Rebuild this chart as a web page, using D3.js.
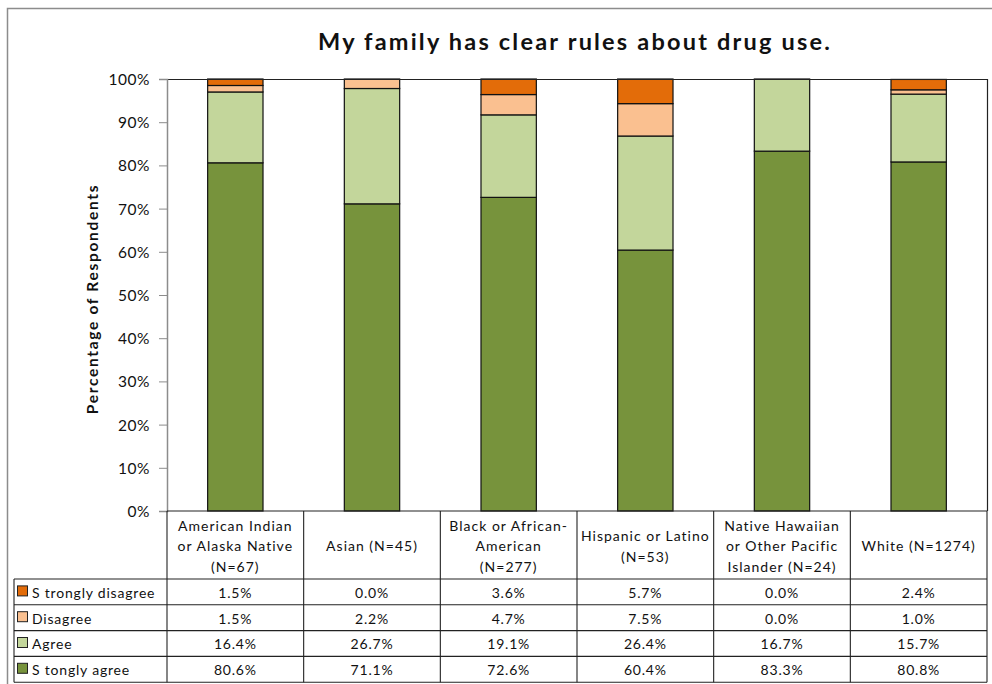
<!DOCTYPE html>
<html>
<head>
<meta charset="utf-8">
<script src="https://cdn.jsdelivr.net/npm/d3@7"></script>
<style>
  html, body { margin: 0; padding: 0; background: #fff; }
  svg { display: block; font-family: Lato, "Open Sans", "Liberation Sans", sans-serif; }
</style>
</head>
<body>
<svg id="chart" width="992" height="684"></svg>
<script>
// Survey groups (header lines of the data table)
const categories = [
  ["American Indian", "or Alaska Native", "(N=67)"],
  ["Asian (N=45)"],
  ["Black or African-", "American", "(N=277)"],
  ["Hispanic or Latino", "(N=53)"],
  ["Native Hawaiian", "or Other Pacific", "Islander (N=24)"],
  ["White (N=1274)"]
];

// Response series, stacked bottom to top: Stongly agree, Agree, Disagree, Strongly disagree
const seriesNames = ["Stongly agree", "Agree", "Disagree", "Strongly disagree"];
const stronglyAgree    = [80.6, 71.1, 72.6, 60.4, 83.3, 80.8];
const agree            = [16.4, 26.7, 19.1, 26.4, 16.7, 15.7];
const disagree         = [1.5, 2.2, 4.7, 7.5, 0.0, 1.0];
const stronglyDisagree = [1.5, 0.0, 3.6, 5.7, 0.0, 2.4];
const seriesColors = ["#77933C", "#C3D69B", "#FAC090", "#E36C09"];

// Table rows, top to bottom
const tableRows = [
  { name: "S trongly disagree", values: stronglyDisagree, color: "#E36C09" },
  { name: "Disagree", values: disagree, color: "#FAC090" },
  { name: "Agree", values: agree, color: "#C3D69B" },
  { name: "S tongly agree", values: stronglyAgree, color: "#77933C" }
];

const yTicks = [0, 10, 20, 30, 40, 50, 60, 70, 80, 90, 100];

const svg = d3.select("#chart");

// Outer frame
svg.append("rect")
  .attr("x", 7.5).attr("y", 8.5).attr("width", 990).attr("height", 680)
  .attr("fill", "none").attr("stroke", "#8c8c8c").attr("stroke-width", 1.5);

const plotLeft = 167, plotRight = 987, plotTop = 79, plotBottom = 511;
const tableLeft = 14;
const headerBottom = 579;
const rowH = 25.8;

const x = d3.scaleBand().domain(d3.range(categories.length))
  .range([plotLeft, plotRight]).paddingInner(0).paddingOuter(0);
const y = d3.scaleLinear().domain([0, 100]).range([plotBottom, plotTop]);
const barW = x.bandwidth() * 0.405;

// Title
svg.append("text")
  .attr("x", 575).attr("y", 50)
  .attr("text-anchor", "middle")
  .attr("font-size", 23.5).attr("font-weight", "bold")
  .attr("letter-spacing", "2.2px")
  .attr("fill", "#111")
  .text("My family has clear rules about drug use.");

// Stacked bars
const table = categories.map((c, i) => ({
  i,
  "Stongly agree": stronglyAgree[i],
  "Agree": agree[i],
  "Disagree": disagree[i],
  "Strongly disagree": stronglyDisagree[i]
}));
const stacked = d3.stack().keys(seriesNames)(table);

svg.append("g").selectAll("g")
  .data(stacked)
  .join("g")
  .attr("fill", (d, k) => seriesColors[k])
  .selectAll("rect")
  .data(d => d.filter(p => p[1] - p[0] > 0))
  .join("rect")
  .attr("x", d => x(d.data.i) + (x.bandwidth() - barW) / 2)
  .attr("y", d => y(Math.min(100, d[1])))
  .attr("width", barW)
  .attr("height", d => y(d[0]) - y(Math.min(100, d[1])))
  .attr("stroke", "#111")
  .attr("stroke-width", 1.2);

// Plot area frame (top and right edges)
svg.append("path")
  .attr("d", `M${plotLeft},${plotTop + 0.5}H${plotRight + 0.5}V${plotBottom}`)
  .attr("fill", "none").attr("stroke", "#222").attr("stroke-width", 1.2);

// Y axis
const yAxis = d3.axisLeft(y).tickValues(yTicks).tickSize(8).tickPadding(9)
  .tickFormat(d => d + "%");
const yg = svg.append("g").attr("transform", `translate(${plotLeft},0)`).call(yAxis);
yg.select(".domain").attr("stroke", "#8c8c8c").attr("stroke-width", 1.5);
yg.selectAll(".tick line").attr("stroke", "#8c8c8c");
yg.selectAll(".tick text")
  .attr("font-size", 15.5).attr("fill", "#111")
  .attr("font-family", "Lato, 'Open Sans', sans-serif")
  .attr("letter-spacing", "0.5px")
  .attr("dy", "0.36em");

// Y axis title
svg.append("text")
  .attr("transform", `translate(98,${(plotTop + plotBottom) / 2 + 4}) rotate(-90)`)
  .attr("text-anchor", "middle")
  .attr("font-size", 15.5).attr("font-weight", "bold")
  .attr("letter-spacing", "1.7px")
  .attr("fill", "#111")
  .text("Percentage of Respondents");

// Data table grid
const grid = svg.append("g").attr("stroke", "#222").attr("stroke-width", 1.1).attr("fill", "none");
const tableBottom = headerBottom + rowH * tableRows.length;
// x axis line / header top
grid.append("line").attr("x1", plotLeft).attr("x2", plotRight).attr("y1", plotBottom).attr("y2", plotBottom);
// horizontal row lines
d3.range(tableRows.length + 1).forEach(r => {
  const yy = headerBottom + r * rowH;
  grid.append("line").attr("x1", tableLeft).attr("x2", plotRight).attr("y1", yy).attr("y2", yy);
});
// vertical column lines
d3.range(categories.length + 1).forEach(c => {
  const xx = c < categories.length ? x(c) : plotRight;
  grid.append("line").attr("x1", xx).attr("x2", xx).attr("y1", plotBottom).attr("y2", tableBottom);
});
grid.append("line").attr("x1", tableLeft).attr("x2", tableLeft).attr("y1", headerBottom).attr("y2", tableBottom);

// Header labels
const header = svg.append("g").attr("font-size", 14).attr("fill", "#111")
  .attr("letter-spacing", "1px").attr("text-anchor", "middle");
categories.forEach((lines, i) => {
  const lh = 20.5;
  const cy = (plotBottom + headerBottom) / 2 + 1.5;
  const y0 = cy - (lines.length - 1) * lh / 2;
  const t = header.append("text");
  lines.forEach((ln, k) => {
    t.append("tspan")
      .attr("x", x(i) + x.bandwidth() / 2)
      .attr("y", y0 + k * lh)
      .attr("dy", "0.35em")
      .text(ln);
  });
});

// Table rows: legend swatch, label, values
const rowsG = svg.append("g").attr("font-size", 14).attr("fill", "#111").attr("letter-spacing", "0.8px");
tableRows.forEach((row, r) => {
  const cy = headerBottom + r * rowH + rowH / 2 + 1;
  rowsG.append("rect")
    .attr("x", 17.5).attr("y", cy - 7).attr("width", 10).attr("height", 10)
    .attr("fill", row.color).attr("stroke", "#222").attr("stroke-width", 1);
  rowsG.append("text")
    .attr("x", 32).attr("y", cy).attr("dy", "0.35em")
    .text(row.name);
  row.values.forEach((v, i) => {
    rowsG.append("text")
      .attr("x", x(i) + x.bandwidth() / 2).attr("y", cy).attr("dy", "0.35em")
      .attr("text-anchor", "middle")
      .text(v.toFixed(1) + "%");
  });
});
</script>
</body>
</html>
